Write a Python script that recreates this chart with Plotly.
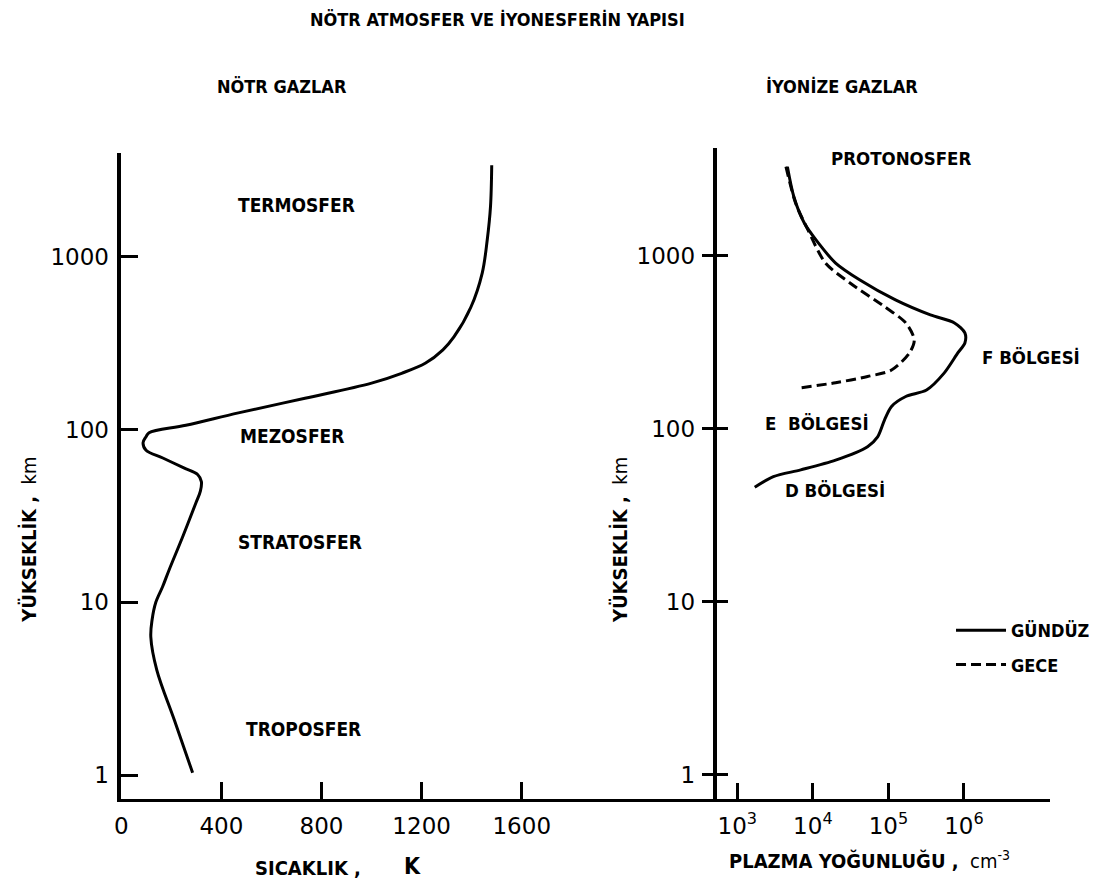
import plotly.graph_objects as go

W, H = 1111, 886

# ---- data ----
# Neutral atmosphere temperature profile (K) vs altitude (km)
temp_alt = [1.03, 2.08, 4.05, 6.3, 7.9, 10, 12.3, 15.4, 23.9, 37.6, 44, 50, 55, 60, 68.5,
            76, 84, 91, 96, 106, 125, 152, 186, 212, 243, 290, 344, 513, 807, 1254, 1948,
            3400]
temp_K = [285, 212, 142, 118, 123, 138, 165, 191, 245, 298, 316, 320, 305, 250, 166,
          99, 87, 99, 111, 258, 468, 734, 1000, 1120, 1216, 1285, 1329, 1397, 1442, 1462,
          1475, 1480]

# Plasma density (cm^-3) vs altitude (km): day and night
day_alt = [3280, 2200, 1550, 1190, 910, 726, 557, 456, 410, 359, 314, 275, 211, 168,
           154, 135, 113, 90, 79, 66, 58, 53, 46]
day_n = [4.6e3, 5.6e3, 7.7e3, 1.18e4, 2.0e4, 4.2e4, 1.24e5, 3.6e5, 7.5e5, 1.03e6, 1.03e6,
         8.3e5, 5.5e5, 3.2e5, 1.7e5, 1.1e5, 8.9e4, 7.2e4, 5.3e4, 2.0e4, 6.9e3, 3.0e3, 1.7e3]

night_alt = [3280, 2025, 1414, 910, 698, 509, 410, 327, 275, 219, 201, 185, 173]
night_n = [4.4e3, 5.9e3, 8.6e3, 1.47e4, 3.1e4, 8.9e4, 1.7e5, 2.2e5, 1.9e5, 1.1e5, 5.3e4,
           2.0e4, 6.9e3]

temp_ticks = [0, 400, 800, 1200, 1600]
temp_ticktext = ["0", "400", "800", "1200", "1600"]
alt_ticks = [1, 10, 100, 1000]
alt_ticktext = ["1", "10", "100", "1000"]
dens_ticks = [1e3, 1e4, 1e5, 1e6]
dens_ticktext = ["10<sup>3</sup>", "10<sup>4</sup>", "10<sup>5</sup>", "10<sup>6</sup>"]

# ---- styling helpers ----
NARROW = "Liberation Sans Narrow, Arial Narrow, DejaVu Sans Condensed, sans-serif"
TICKFONT = dict(family="DejaVu Sans, sans-serif", size=23, color="black")


def px_x(p):
    return p / W


def px_y(p):
    return 1 - p / H


fig = go.Figure()

fig.add_trace(go.Scatter(x=temp_K, y=temp_alt, xaxis="x", yaxis="y", mode="lines",
                         line=dict(color="black", width=3, shape="spline", smoothing=1.0),
                         showlegend=False, hoverinfo="skip"))
fig.add_trace(go.Scatter(x=day_n, y=day_alt, xaxis="x2", yaxis="y2", mode="lines",
                         name="<b>GÜNDÜZ</b>", legendgroup="a",
                         line=dict(color="black", width=3, shape="spline", smoothing=0.8)))
fig.add_trace(go.Scatter(x=night_n, y=night_alt, xaxis="x2", yaxis="y2", mode="lines",
                         name="<b>GECE</b>", legendgroup="b",
                         line=dict(color="black", width=3, dash="10px,5px",
                                   shape="spline", smoothing=0.8)))
# helper trace so the overlaid axis (crossing ticks on right panel) gets drawn
fig.add_trace(go.Scatter(x=[None], y=[None], xaxis="x2", yaxis="y3", mode="lines",
                         showlegend=False, hoverinfo="skip"))

yb = px_y(799)
common_y = dict(type="log", showgrid=False, zeroline=False, showline=True,
                linecolor="black", tickcolor="black", tickfont=TICKFONT,
                tickvals=alt_ticks, ticktext=alt_ticktext)

fig.update_layout(
    width=W, height=H,
    margin=dict(l=0, r=0, t=0, b=0),
    paper_bgcolor="white", plot_bgcolor="white",
    showlegend=True,
    xaxis=dict(domain=[px_x(115), px_x(715)], range=[0, 2382], anchor="y",
               showgrid=False, zeroline=False, showline=True, linecolor="black",
               linewidth=3, ticks="inside", ticklen=17, tickwidth=2.5,
               tickcolor="black", tickvals=temp_ticks, ticktext=temp_ticktext,
               tickfont=TICKFONT, ticklabelstandoff=4),
    yaxis=dict(domain=[yb, px_y(153)], range=[-0.139, 3.602], anchor="x",
               linewidth=3.5, ticks="inside", ticklen=17, tickwidth=2.5,
               ticklabelstandoff=4, **common_y),
    xaxis2=dict(domain=[px_x(715), px_x(1050)], range=[2.737, 7.145], type="log",
                anchor="y2", showgrid=False, zeroline=False, showline=True,
                linecolor="black", linewidth=3, ticks="inside", ticklen=16,
                tickwidth=2.5, tickcolor="black", tickvals=dens_ticks,
                ticktext=dens_ticktext, tickfont=TICKFONT, ticklabelstandoff=4),
    yaxis2=dict(domain=[yb, px_y(148)], range=[-0.139, 3.624], anchor="x2",
                linewidth=3.5, ticks="outside", ticklen=12, tickwidth=2.5,
                ticklabelstandoff=2, **common_y),
    yaxis3=dict(overlaying="y2", range=[-0.139, 3.624], type="log", anchor="x2",
                showgrid=False, zeroline=False, showline=False, ticks="inside",
                ticklen=11, tickwidth=2.5, tickcolor="black", tickvals=alt_ticks,
                showticklabels=False),
    legend=dict(x=px_x(950), y=px_y(612), xanchor="left", yanchor="top",
                font=dict(family=NARROW, size=18, color="black"),
                bgcolor="rgba(0,0,0,0)", tracegroupgap=8, itemwidth=50),
)

labels = [
    ("<b>NÖTR ATMOSFER VE İYONESFERİN YAPISI</b>", 494, 20, 18),
    ("<b>NÖTR GAZLAR</b>", 277, 87, 18),
    ("<b>İYONİZE GAZLAR</b>", 840, 87, 18),
    ("<b>TERMOSFER</b>", 291, 205, 19),
    ("<b>MEZOSFER</b>", 287, 436, 19),
    ("<b>STRATOSFER</b>", 295, 542, 19),
    ("<b>TROPOSFER</b>", 298, 729, 19),
    ("<b>PROTONOSFER</b>", 900, 158, 18.5),
    ("<b>F BÖLGESİ</b>", 1030, 357, 18.5),
    ("<b>E  BÖLGESİ</b>", 815, 423, 18.5),
    ("<b>D BÖLGESİ</b>", 833, 490, 18.5),
    ("<b>SICAKLIK ,</b>", 303, 868, 20),
    ("<b>K</b>", 408, 866, 23),
    ("<b>PLAZMA YOĞUNLUĞU ,</b>  cm<sup>-3</sup>", 868, 860, 20),
]
for text, x, y, size in labels:
    fig.add_annotation(text=text, x=px_x(x), y=px_y(y), xref="paper", yref="paper",
                       xanchor="center", yanchor="middle", showarrow=False,
                       font=dict(family=NARROW, size=size, color="black"))

for x in (22, 617):
    fig.add_annotation(text="<b>YÜKSEKLİK ,</b>  km", x=px_x(x), y=px_y(540),
                       xref="paper", yref="paper", textangle=-90,
                       xanchor="center", yanchor="middle", showarrow=False,
                       font=dict(family=NARROW, size=20, color="black"))

fig.write_html("out.html")
